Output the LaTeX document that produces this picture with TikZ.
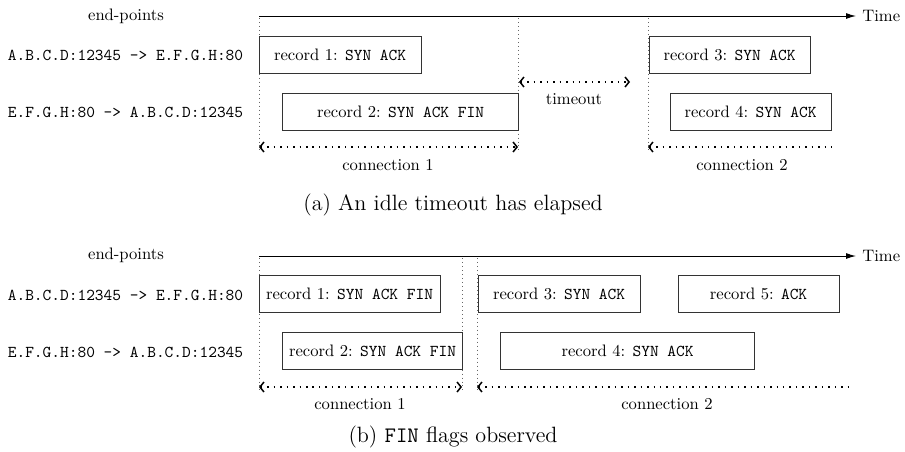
\documentclass[tikz,border=0pt]{standalone}
\usepackage{fontspec}
\usetikzlibrary{arrows.meta}
\def\pxu{0.6024pt}
\begin{document}
\begin{tikzpicture}[x=0.6024pt,y=-0.6024pt,
  recbox/.style={draw=black!80, line width=0.7pt, minimum height=37*\pxu,
    inner sep=0pt, anchor=north west},
  timeline/.style={line width=0.6pt, -{Latex[length=6pt,width=3.6pt]}},
  guide/.style={draw=black!60, line width=0.4pt, dotted},
  span/.style={line width=0.9pt, dash pattern=on 0.9pt off 3pt},
  barb/.style={Straight Barb[length=2.4pt,width=6pt,line width=0.9pt]},
  spanboth/.style={span, {Straight Barb[length=2.4pt,width=6pt]}-{Straight Barb[length=2.4pt,width=6pt]}},
  spanleft/.style={span, {Straight Barb[length=2.4pt,width=6pt]}-},
  lbl/.style={inner sep=0pt},
  capt/.style={inner sep=0pt, font=\fontsize{13.33}{16}\selectfont}
]
\useasboundingbox (0,0) rectangle (905,451);

% ---------- (a) idle timeout ----------
\node[lbl] (epA) at (126,16) {end-points};
\node[lbl] (srcA) at (125.5,55) {\texttt{A.B.C.D:12345 -> E.F.G.H:80}};
\node[lbl] (dstA) at (125.5,112) {\texttt{E.F.G.H:80 -> A.B.C.D:12345}};

\coordinate (tA0) at (259,16);
\coordinate (tA1) at (856,16);
\draw[timeline] (tA0) -- (tA1);
\node[lbl, anchor=west] (timeA) at (862,16) {Time};

\coordinate (gA1t) at (259,18);  \coordinate (gA1b) at (259,150);
\coordinate (gA2t) at (518,18);  \coordinate (gA2b) at (518,150);
\coordinate (gA3t) at (648,18);  \coordinate (gA3b) at (648,150);
\draw[guide] (gA1t) -- (gA1b);
\draw[guide] (gA2t) -- (gA2b);
\draw[guide] (gA3t) -- (gA3b);

\node[recbox, minimum width=162*\pxu] (rA1) at (258.5,36) {record 1: \texttt{SYN ACK}};
\node[recbox, minimum width=236*\pxu] (rA2) at (282,92.5) {record 2: \texttt{SYN ACK FIN}};
\node[recbox, minimum width=161*\pxu] (rA3) at (648.5,36) {record 3: \texttt{SYN ACK}};
\node[recbox, minimum width=161*\pxu] (rA4) at (669.5,92.5) {record 4: \texttt{SYN ACK}};

\coordinate (cA1l) at (259,147); \coordinate (cA1r) at (518,147);
\draw[spanboth] (cA1l) -- (cA1r);
\node[lbl] (cA1) at (388,165) {connection 1};

\coordinate (toL) at (519,82); \coordinate (toR) at (630,82);
\draw[spanboth] (toL) -- (toR);
\node[lbl] (toA) at (574,99) {timeout};

\coordinate (cA2l) at (648,147); \coordinate (cA2r) at (831,147);
\draw[spanleft] (cA2l) -- (cA2r);
\node[lbl] (cA2) at (742,165) {connection 2};

\node[capt] (capA) at (453,205) {(a) An idle timeout has elapsed};

% ---------- (b) FIN flags ----------
\node[lbl] (epB) at (126,255) {end-points};
\node[lbl] (srcB) at (125.5,295) {\texttt{A.B.C.D:12345 -> E.F.G.H:80}};
\node[lbl] (dstB) at (125.5,352) {\texttt{E.F.G.H:80 -> A.B.C.D:12345}};

\coordinate (tB0) at (259,256);
\coordinate (tB1) at (856,256);
\draw[timeline] (tB0) -- (tB1);
\node[lbl, anchor=west] (timeB) at (862,256) {Time};

\coordinate (gB1t) at (259,258);  \coordinate (gB1b) at (259,390);
\coordinate (gB2t) at (462,258);  \coordinate (gB2b) at (462,390);
\coordinate (gB3t) at (477,258);  \coordinate (gB3b) at (477,390);
\draw[guide] (gB1t) -- (gB1b);
\draw[guide] (gB2t) -- (gB2b);
\draw[guide] (gB3t) -- (gB3b);

\node[recbox, minimum width=181*\pxu] (rB1) at (258.5,275) {record 1: \texttt{SYN ACK FIN}};
\node[recbox, minimum width=180*\pxu] (rB2) at (282,332) {record 2: \texttt{SYN ACK FIN}};
\node[recbox, minimum width=162*\pxu] (rB3) at (477.5,275) {record 3: \texttt{SYN ACK}};
\node[recbox, minimum width=254*\pxu] (rB4) at (500,332) {record 4: \texttt{SYN ACK}};
\node[recbox, minimum width=161*\pxu] (rB5) at (677.5,275) {record 5: \texttt{ACK}};

\coordinate (cB1l) at (259,387); \coordinate (cB1r) at (462,387);
\draw[spanboth] (cB1l) -- (cB1r);
\node[lbl] (cB1) at (360,404) {connection 1};

\coordinate (cB2l) at (477,387); \coordinate (cB2r) at (854,387);
\draw[spanleft] (cB2l) -- (cB2r);
\node[lbl] (cB2) at (667,404) {connection 2};

\node[capt] (capB) at (453,437) {(b) \texttt{FIN} flags observed};
\end{tikzpicture}
\end{document}
